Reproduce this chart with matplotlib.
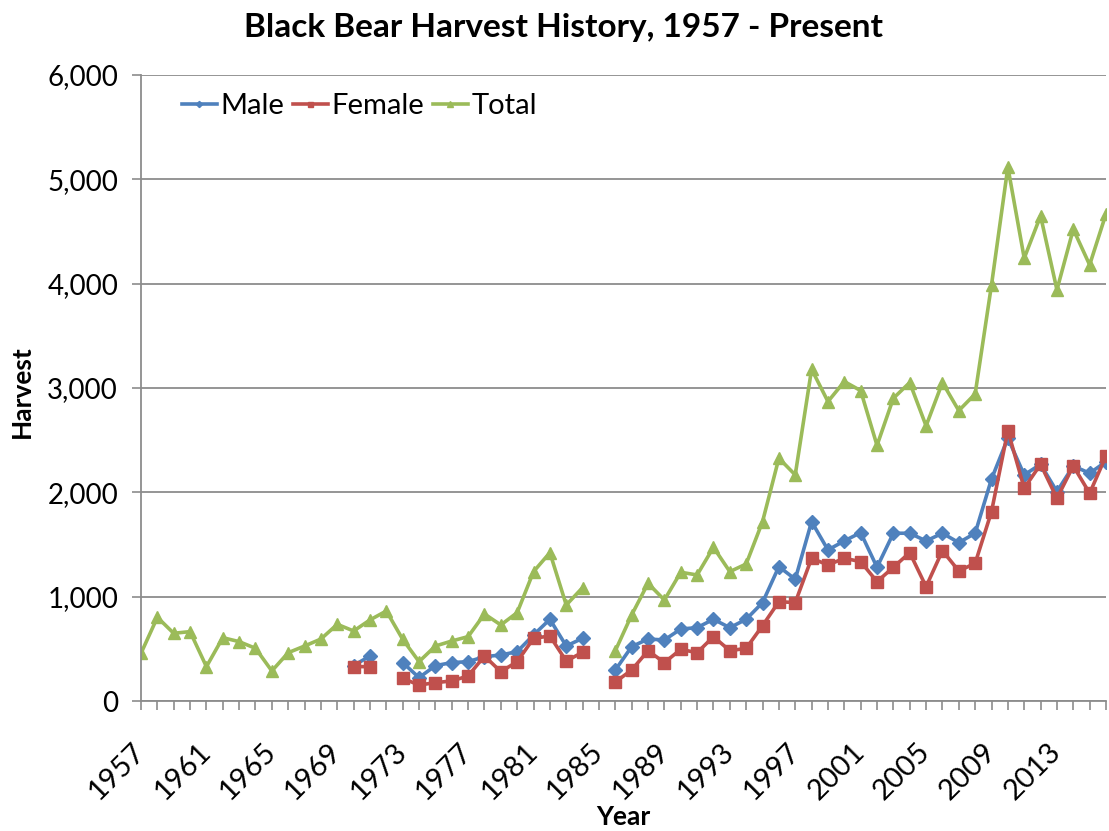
import matplotlib
matplotlib.use("Agg")
import matplotlib.pyplot as plt
from matplotlib.ticker import FuncFormatter, MultipleLocator
import numpy as np

nan = np.nan

years = list(range(1957, 2017))

male = [nan] * 13 + [
    340, 431, nan,                                   # 1970-1972
    368, 224, 339, 368, 377, 425, 441, 473, 633, 783, 527, 601,  # 1973-1984
    nan,                                             # 1985
    297, 521, 594, 585, 690, 703, 783, 703, 783, 943, 1288, 1167,  # 1986-1997
    1719, 1448, 1534, 1614, 1282, 1608, 1608, 1534, 1608, 1518, 1608,  # 1998-2008
    2128, 2519, 2167, 2269, 2007, 2253, 2183, 2294,  # 2009-2016
]

female = [nan] * 13 + [
    330, 329, nan,
    217, 153, 176, 192, 240, 431, 281, 377, 601, 623, 383, 467,
    nan,
    182, 297, 482, 368, 495, 463, 617, 482, 505, 722, 952, 943,
    1368, 1304, 1368, 1336, 1144, 1282, 1422, 1096, 1441, 1246, 1320,
    1815, 2592, 2039, 2269, 1943, 2253, 1991, 2349,
]

total = [
    457, 802, 649, 665, 329, 607, 569, 505, 288, 463, 527, 594, 735,  # 1957-1969
    671, 777, 863,
    591, 377, 527, 575, 617, 834, 729, 847, 1240, 1422, 920, 1087,
    nan,
    482, 825, 1128, 968, 1234, 1208, 1473, 1240, 1313, 1719, 2327, 2167,
    3180, 2870, 3062, 2975, 2450, 2902, 3052, 2637, 3052, 2783, 2943,
    3988, 5117, 4244, 4650, 3941, 4522, 4180, 4669,
]

tick_years = list(range(1957, 2017, 4))

plt.rcParams['font.family'] = ['Lato', 'DejaVu Sans']

W, H = 1109, 831
fig = plt.figure(figsize=(W / 100, H / 100), dpi=100)
ax = fig.add_axes([141 / W, 1 - 701 / H, (1106 - 141) / W, (701 - 75) / H])

ax.plot(years, male, color='#4F81BD', lw=2.6, marker='D', ms=7, label='Male')
ax.plot(years, female, color='#C0504D', lw=2.6, marker='s', ms=8, label='Female')
ax.plot(years, total, color='#9BBB59', lw=2.6, marker='^', ms=9, label='Total')

ax.set_xlim(1957, 2016)
ax.set_ylim(0, 6000)
ax.yaxis.set_major_locator(MultipleLocator(1000))
ax.yaxis.set_major_formatter(FuncFormatter(lambda v, p: f'{int(v):,}'))
ax.set_xticks(tick_years)
ax.set_xticklabels([str(y) for y in tick_years], rotation=45, ha='right',
                   va='center', rotation_mode='anchor')
ax.xaxis.set_minor_locator(MultipleLocator(1))

ax.grid(axis='y', color='#8C8C8C', lw=1.3)
ax.set_axisbelow(True)
for side in ('top', 'right'):
    ax.spines[side].set_visible(False)
for side in ('left', 'bottom'):
    ax.spines[side].set_color('#8C8C8C')
    ax.spines[side].set_linewidth(1.3)

ax.tick_params(axis='both', which='both', color='#8C8C8C', width=1.2, length=6.5)
ax.tick_params(axis='y', pad=10, labelsize=20)
ax.tick_params(axis='x', pad=27, labelsize=21)

# axis titles placed in figure pixels
fig.text(623 / W, 1 - 817 / H, 'Year', fontsize=19, fontweight='bold',
         ha='center', va='center')
fig.text(22 / W, 1 - 392 / H, 'Harvest', fontsize=19, fontweight='bold',
         ha='center', va='center', rotation=90)
fig.text(563 / W, 1 - 27 / H, 'Black Bear Harvest History, 1957 - Present',
         fontsize=24, fontweight='bold', ha='center', va='center')

leg = ax.legend(loc='upper left', ncol=3, frameon=False, fontsize=21,
                handlelength=1.2, handletextpad=0.12, columnspacing=0.3,
                markerscale=0.45, bbox_to_anchor=(0.03, 0.99), borderaxespad=0)

fig.savefig('out.png', dpi=100, facecolor='white')
